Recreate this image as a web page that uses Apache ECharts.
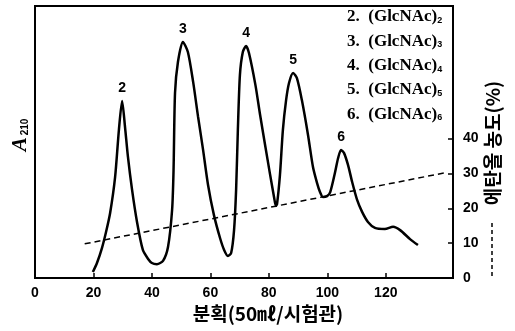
<!DOCTYPE html>
<html>
<head>
<meta charset="utf-8">
<script src="https://cdn.jsdelivr.net/npm/echarts@6/dist/echarts.min.js"></script>
<style>
  html, body { margin: 0; padding: 0; background: #fff; }
  #chart { width: 515px; height: 331px; }
</style>
</head>
<body>
<div id="chart"></div>
<script>
// Elution profile: fraction number (50 mL / tube) vs. absorbance at 210 nm
const fraction = [19.8, 21.2, 22.9, 24.3, 25.7, 27.4, 28.7, 29.8, 30.8, 31.8, 33.2, 34.9, 36.9, 38.7, 40.0, 41.7, 43.8, 45.5, 46.9, 47.4, 47.9, 48.9, 50.6,
  52.3, 54.1, 55.8, 57.5, 59.2, 61.2, 63.3, 64.7, 66.0, 67.1, 68.1, 68.8, 69.4, 70.1, 71.1, 72.2,
  73.2, 75.4, 77.0, 78.7, 80.4, 81.8, 82.4, 82.8, 83.8, 84.8, 85.9, 86.9, 88.3,
  89.6, 91.3, 93.4, 95.1, 96.5, 97.5, 98.5, 99.9, 101.0, 102.6, 103.7, 104.7,
  105.7, 107.1, 108.5, 110.2, 111.9, 113.9, 116.3, 119.7, 122.5, 124.9, 128.3, 131.0];
const a210 = [2.2, 5.5, 11.0, 16.9, 23.9, 37.1, 54.4, 65.1, 55.5, 44.5, 32.5, 20.6, 10.3, 7.0, 5.5, 5.1, 6.3, 11.4, 25.0, 39.7, 68.0, 79.4, 86.8,
  83.1, 72.1, 59.2, 47.1, 34.2, 23.2, 14.7, 10.3, 8.1, 9.2, 17.6, 32.4, 54.4, 74.6, 83.1, 85.3,
  82.7, 71.0, 60.0, 49.0, 38.2, 29.6, 26.5, 27.2, 37.9, 54.4, 65.4, 71.7, 75.4,
  73.5, 65.4, 52.6, 40.8, 34.9, 31.6, 29.8, 30.1, 31.6, 38.6, 44.1, 47.1,
  46.0, 41.5, 35.3, 28.7, 24.3, 20.6, 18.4, 18.0, 18.8, 17.6, 14.3, 12.1];

// Peaks: fraction at the apex and the oligomer number printed above it
const peakFraction = [29.8, 50.6, 72.2, 88.3, 104.7];
const peakNames = ['2', '3', '4', '5', '6'];

// Ethanol gradient (right axis, %)
const ethanolFraction = [17, 141];
const ethanolPct = [9.8, 30.3];

// Labelled axis values
const fractionTicks = [0, 20, 40, 60, 80, 100, 120];
const ethanolTicks = [0, 10, 20, 30, 40];

// Peak identification list
const productNo = ['2', '3', '4', '5', '6'];
const productName = 'GlcNAc';

const chart = echarts.init(document.getElementById('chart'));

const curveData = fraction.map((f, i) => {
  const k = peakFraction.indexOf(f);
  if (k < 0) return [f, a210[i]];
  return {
    value: [f, a210[i]],
    label: {
      show: true, position: 'top', distance: 6,
      formatter: peakNames[k],
      color: '#000', fontSize: 14, fontWeight: 'bold',
      fontFamily: 'Liberation Sans, Arial, sans-serif'
    }
  };
});

const ethanolData = ethanolFraction.map((f, i) => [f, ethanolPct[i]]);

const tickFont = { color: '#000', fontSize: 14, fontWeight: 'bold', fontFamily: 'Liberation Sans, Arial, sans-serif' };

const listTexts = productNo.map((n, i) => ({
  type: 'text',
  x: 347, y: 17 + i * 24.3,
  style: {
    text: '{a|' + n + '.  (' + productName + ')}{s|' + n + '}',
    fill: '#000',
    verticalAlign: 'middle',
    rich: {
      a: { fontSize: 17, fontFamily: 'Liberation Serif, serif', fontWeight: 'bold', fill: '#000', lineHeight: 18 },
      s: { fontSize: 9, fontFamily: 'Liberation Sans, sans-serif', fontWeight: 'bold', fill: '#000', lineHeight: 10, padding: [7, 0, 0, 0] }
    }
  }
}));

chart.setOption({
  animation: false,
  backgroundColor: '#fff',
  grid: { left: 35, right: 62, top: 6, bottom: 53, show: true, borderColor: '#000', borderWidth: 2 },
  xAxis: {
    type: 'value', min: 0, max: 143, interval: 20,
    axisLine: { show: true, lineStyle: { color: '#000', width: 2 } },
    axisTick: { show: true, inside: true, length: 5, customValues: fractionTicks, lineStyle: { color: '#000', width: 1.5 } },
    axisLabel: Object.assign({ margin: 8, customValues: fractionTicks }, tickFont),
    splitLine: { show: false }
  },
  yAxis: [
    {
      type: 'value', min: 0, max: 100, position: 'left',
      axisLine: { show: true, lineStyle: { color: '#000', width: 2 } },
      axisTick: { show: false }, axisLabel: { show: false }, splitLine: { show: false }
    },
    {
      type: 'value', min: 0, max: 78, interval: 10, position: 'right',
      axisLine: { show: true, lineStyle: { color: '#000', width: 2 } },
      axisTick: { show: true, inside: true, length: 5, customValues: ethanolTicks, lineStyle: { color: '#000', width: 1.5 } },
      axisLabel: Object.assign({ margin: 10, customValues: ethanolTicks }, tickFont),
      splitLine: { show: false }
    }
  ],
  graphic: listTexts.concat([
    {
      type: 'text', x: 21, y: 135, rotation: Math.PI / 2,
      style: {
        text: '{a|A}{s|210}',
        align: 'center', verticalAlign: 'middle',
        rich: {
          a: { fontSize: 21, fontStyle: 'italic', fontWeight: 'bold', fontFamily: 'Liberation Serif, serif', fill: '#000' },
          s: { fontSize: 10, fontWeight: 'bold', fontFamily: 'Liberation Sans, sans-serif', fill: '#000', padding: [9, 0, 0, 2] }
        }
      }
    },
    {
      type: 'text', x: 268, y: 314,
      style: {
        text: '분획(50㎖/시험관)', fill: '#000',
        font: 'bold 19px "Noto Sans CJK KR", sans-serif',
        align: 'center', verticalAlign: 'middle'
      }
    },
    {
      type: 'text', x: 493, y: 143, rotation: Math.PI / 2,
      style: {
        text: '에탄올 농도(%)', fill: '#000',
        font: 'bold 19px "Noto Sans CJK KR", sans-serif',
        align: 'center', verticalAlign: 'middle'
      }
    },
    {
      type: 'line', shape: { x1: 492, y1: 223, x2: 492, y2: 276 },
      style: { stroke: '#000', lineWidth: 1.5, lineDash: [4, 3] }
    }
  ]),
  series: [
    {
      type: 'line', yAxisIndex: 0, data: curveData,
      smooth: 0.25,
      showSymbol: true, showAllSymbol: true, symbol: 'circle', symbolSize: 0,
      lineStyle: { color: '#000', width: 2.5 },
      itemStyle: { color: '#000' },
      z: 3
    },
    {
      type: 'line', yAxisIndex: 1, data: ethanolData,
      showSymbol: false, symbol: 'none',
      lineStyle: { color: '#000', width: 1.5, type: [6, 4] },
      z: 2
    }
  ]
});
</script>
</body>
</html>
